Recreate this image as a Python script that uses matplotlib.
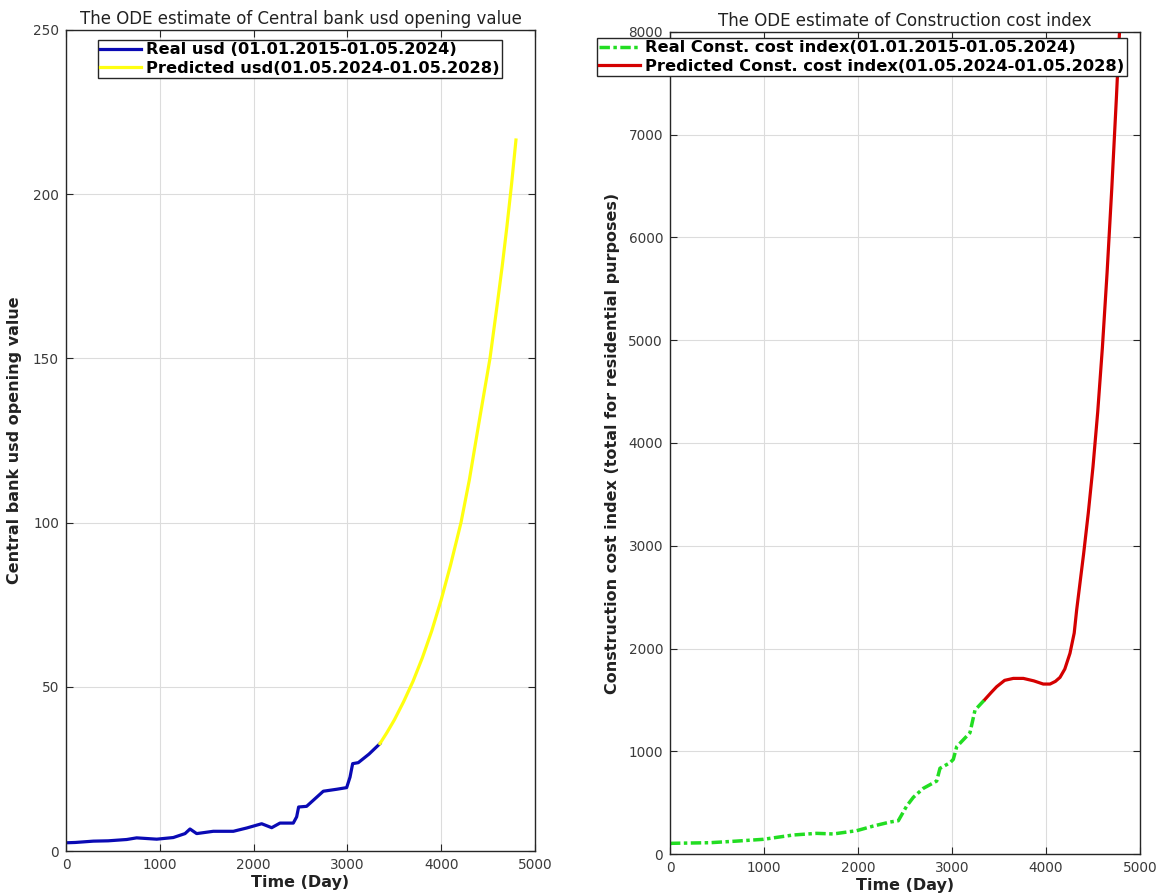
import matplotlib
matplotlib.use("Agg")
import matplotlib.pyplot as plt

# --- donnees -------------------------------------------------------------
# usd : serie reelle (jours depuis 01.01.2015)
usd_real_t = [0, 100, 291, 450, 647, 753, 967, 1144, 1269, 1322, 1393, 1570,
              1784, 1926, 2086, 2193, 2281, 2423, 2459, 2480, 2565, 2743,
              2886, 2992, 3028, 3056, 3116, 3230, 3347]
usd_real_v = [2.5, 2.6, 3.0, 3.1, 3.5, 4.0, 3.6, 4.1, 5.3, 6.7, 5.3, 6.0,
              6.0, 7.0, 8.3, 7.1, 8.5, 8.5, 10.4, 13.4, 13.6, 18.2,
              18.8, 19.3, 22.5, 26.6, 26.9, 29.5, 32.7]
# usd : prediction
usd_pred_t = [3347, 3420, 3500, 3600, 3700, 3800, 3900, 4000, 4100, 4211,
              4300, 4400, 4460, 4520, 4600, 4650, 4700, 4750, 4797]
usd_pred_v = [32.7, 36.0, 39.9, 45.5, 51.7, 58.9, 67.1, 76.5, 87.1, 100,
              113, 130, 140, 150, 167, 178, 190, 203, 216.5]

# indice du cout de construction : serie reelle
cci_real_t = [0, 18, 426, 700, 993, 1312, 1560, 1738, 1986, 2163, 2340,
              2429, 2518, 2589, 2695, 2837, 2872, 2979, 3014, 3050, 3191,
              3245, 3351]
cci_real_v = [100, 104, 110, 125, 143, 185, 201, 195, 227, 272, 311,
              324, 467, 552, 639, 710, 834, 888, 921, 1044, 1180,
              1401, 1505]
# indice du cout de construction : prediction
cci_pred_t = [3351, 3420, 3475, 3560, 3652, 3759, 3870, 3971, 4043, 4100,
              4149, 4200, 4255, 4300, 4326, 4362, 4400, 4450, 4500, 4550,
              4600, 4650, 4700, 4750, 4800, 4820]
cci_pred_v = [1505, 1575, 1628, 1690, 1709, 1709, 1685, 1654, 1654, 1680,
              1719, 1800, 1953, 2150, 2374, 2640, 2920, 3320, 3770, 4300,
              4930, 5660, 6480, 7380, 8350, 8750]

x_ticks = [0, 1000, 2000, 3000, 4000, 5000]
usd_ticks = [0, 50, 100, 150, 200, 250]
cci_ticks = [0, 1000, 2000, 3000, 4000, 5000, 6000, 7000, 8000]

plt.rcParams['font.family'] = ['DejaVu Sans']

W, H = 1159, 896
fig = plt.figure(figsize=(W / 100, H / 100), dpi=100)

def px_axes(l, r, t, b):
    return fig.add_axes([l / W, 1 - b / H, (r - l) / W, (b - t) / H])

ax1 = px_axes(66, 535, 30, 851)
ax2 = px_axes(670, 1140, 32, 854)

def style(ax):
    ax.set_xlim(0, 5000)
    ax.set_xticks(x_ticks)
    ax.grid(True, color="#dcdcdc", linewidth=0.8)
    ax.set_axisbelow(True)
    ax.tick_params(direction="in", length=5, top=True, right=True,
                   labelsize=9.8, labelcolor="#3a3a3a", color="#262626",
                   pad=5)
    for s in ax.spines.values():
        s.set_color("#262626")
        s.set_linewidth(1.0)
    ax.set_xlabel("Time (Day)", fontsize=11.5, fontweight="bold",
                  color="#222222", labelpad=2)

# --- graphe 1 : usd ---
ax1.plot(usd_real_t, usd_real_v, color="#0a0ab4", linewidth=2.3,
         label="Real usd (01.01.2015-01.05.2024)")
ax1.plot(usd_pred_t, usd_pred_v, color="#ffff10", linewidth=2.3,
         label="Predicted usd(01.05.2024-01.05.2028)")
ax1.set_ylim(0, 250)
ax1.set_yticks(usd_ticks)
style(ax1)
ax1.set_ylabel("Central bank usd opening value", fontsize=11.5,
               fontweight="bold", color="#222222", labelpad=8)
ax1.set_title("The ODE estimate of Central bank usd opening value",
              fontsize=12, color="#222222", pad=4)

# --- graphe 2 : indice du cout de construction ---
ax2.plot(cci_real_t, cci_real_v, color="#22dd22", linewidth=2.5,
         dashes=(3, 1, 1, 1),
         label="Real Const. cost index(01.01.2015-01.05.2024)")
ax2.plot(cci_pred_t, cci_pred_v, color="#d40000", linewidth=2.3,
         label="Predicted Const. cost index(01.05.2024-01.05.2028)")
ax2.set_ylim(0, 8000)
ax2.set_yticks(cci_ticks)
style(ax2)
ax2.set_ylabel("Construction cost index (total for residential purposes)",
               fontsize=11.5, fontweight="bold", color="#222222", labelpad=6)
ax2.set_title("The ODE estimate of Construction cost index",
              fontsize=12, color="#222222", pad=4)

def legend(ax, x, y):
    leg = ax.legend(loc="upper left", bbox_to_anchor=(x / W, 1 - y / H),
                    bbox_transform=fig.transFigure, fancybox=False,
                    framealpha=1, edgecolor="#262626",
                    prop={"weight": "bold", "size": 11.7},
                    handlelength=2.5, handletextpad=0.3, borderpad=0.15,
                    labelspacing=0.2, borderaxespad=0)
    leg.get_frame().set_linewidth(1.0)
    leg.set_zorder(10)
    return leg

legend(ax1, 98, 40)
legend(ax2, 597, 38)

fig.savefig("out.png", dpi=100)
